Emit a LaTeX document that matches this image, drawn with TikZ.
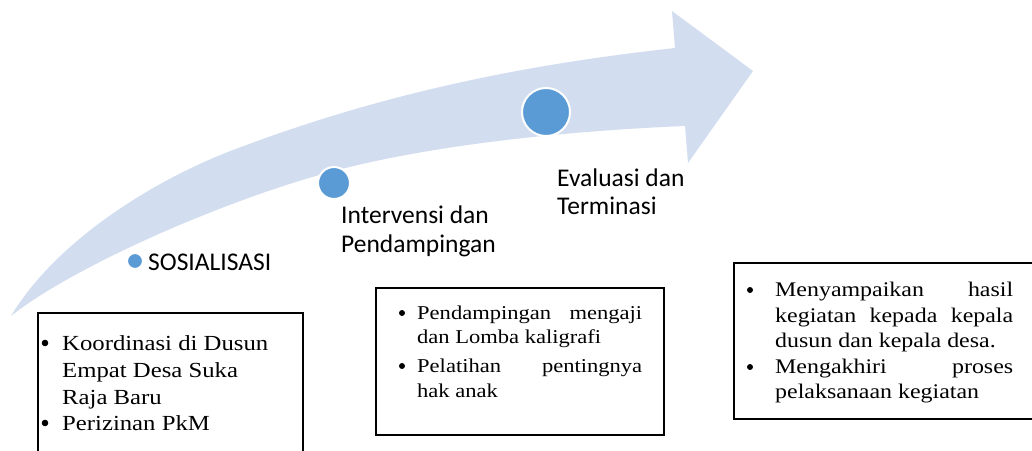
\documentclass[tikz,border=0pt]{standalone}
\usepackage{fontspec}
\setmainfont{Liberation Serif}
\newfontfamily\labelfont{Carlito}
\newfontfamily\boxfont{Liberation Serif}[FakeStretch=1.15]
\definecolor{arrowblue}{HTML}{D2DEEF}
\definecolor{dotblue}{HTML}{5B9BD5}
\tikzset{
  lbl/.style={font=\labelfont\fontsize{25.5}{29}\selectfont, inner sep=0pt, anchor=base west},
  frame/.style={draw=black, line width=2pt},
  dot/.style={fill=dotblue, draw=white, line width=2pt},
  bl/.style={fill=black},
  ta/.style={font=\boxfont\fontsize{21.5}{27}\selectfont, inner sep=0pt, anchor=base west},
  tb/.style={font=\boxfont\fontsize{19.6}{25}\selectfont, inner sep=0pt, anchor=base west},
  tc/.style={font=\boxfont\fontsize{20.8}{26}\selectfont, inner sep=0pt, anchor=base west}
}
\begin{document}
\begin{tikzpicture}[x=1pt,y=-1pt]
\useasboundingbox (0,0) rectangle (1032,450);
\clip (0,0) rectangle (1032,450);
% big curved arrow
\fill[arrowblue] (11,316) .. controls (56,241) and (153,180.4) .. (233,150)
  .. controls (383,93) and (525,64.5) .. (675,48)
  -- (672,11) -- (753,71) -- (688,163) -- (685,126)
  .. controls (565,131) and (430,145) .. (330,172)
  .. controls (220,201.7) and (71,268) .. (11,316) -- cycle;
% stage dots
\filldraw[dot] (135,261) circle (8);
\filldraw[dot] (334,183) circle (16);
\filldraw[dot] (546,112) circle (24);
% labels
\node[lbl] (s1) at (148,270) {SOSIALISASI};
\node[lbl] (s2a) at (341,223) {Intervensi dan};
\node[lbl] (s2b) at (341,252) {Pendampingan};
\node[lbl] (s3a) at (557,186) {Evaluasi dan};
\node[lbl] (s3b) at (557,214) {Terminasi};
% box 1
\draw[frame] (38,470) -- (38,313) -- (303,313) -- (303,470);
\fill[bl] (45,343) circle (3.3);
\fill[bl] (45,423) circle (3.3);
\node[ta] (b1a) at (62,350) {Koordinasi di Dusun};
\node[ta] (b1b) at (62,377) {Empat Desa Suka};
\node[ta] (b1c) at (62,404) {Raja Baru};
\node[ta] (b1d) at (62,430) {Perizinan PkM};
% box 2
\draw[frame] (376,288) rectangle (664,435);
\fill[bl] (402,313) circle (3);
\fill[bl] (402,366) circle (3);
\node[tb] (b2a) at (417,319) {\makebox[225pt][s]{Pendampingan mengaji}};
\node[tb] (b2b) at (417,343) {dan Lomba kaligrafi};
\node[tb] (b2c) at (417,372) {\makebox[225pt][s]{Pelatihan pentingnya}};
\node[tb] (b2d) at (417,397) {hak anak};
% box 3
\draw[frame] (734,263) rectangle (1045,419);
\fill[bl] (750,290) circle (3);
\fill[bl] (750,367) circle (3);
\node[tc] (b3a) at (775,296) {\makebox[238pt][s]{Menyampaikan hasil}};
\node[tc] (b3b) at (775,322) {\makebox[238pt][s]{kegiatan kepada kepala}};
\node[tc] (b3c) at (775,347) {dusun dan kepala desa.};
\node[tc] (b3d) at (775,373) {\makebox[238pt][s]{Mengakhiri proses}};
\node[tc] (b3e) at (775,398) {pelaksanaan kegiatan};
\end{tikzpicture}
\end{document}
